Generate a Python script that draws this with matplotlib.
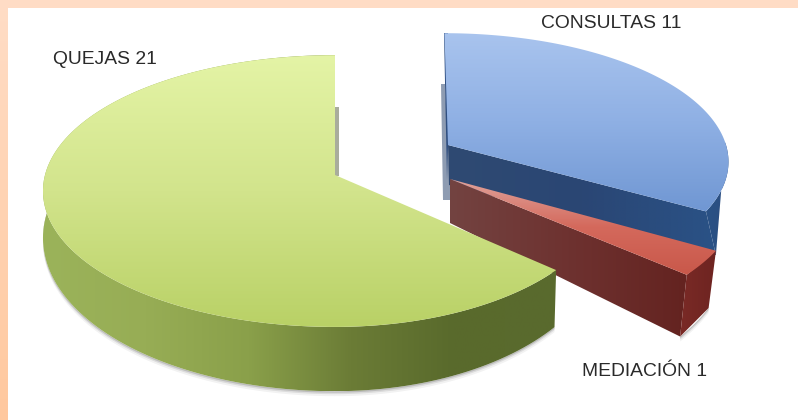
import numpy as np
import matplotlib
matplotlib.use("Agg")
import matplotlib.pyplot as plt
from matplotlib.colors import LinearSegmentedColormap as LSC
from matplotlib.patches import Polygon, Rectangle

categories = ["CONSULTAS", "MEDIACIÓN", "QUEJAS"]
values = [11, 1, 21]
label_font = ["Liberation Sans", "DejaVu Sans"]

fig = plt.figure(figsize=(7.98, 4.20), dpi=100, facecolor="white")
ax = fig.add_axes([0, 0, 1, 1])

# slice angles (clockwise from 12 o'clock) come from the values
fracs = np.array(values) / sum(values) * 2 * np.pi
stops = np.concatenate([[0], np.cumsum(fracs)])
K = 0.118


def project(theta, cx, cy, a_r, a_l, b, shear=0):
    u, v = np.sin(theta), np.cos(theta)
    w = 1 + K * v
    a = np.where(u > 0, a_r, a_l)
    return cx + (a * u + shear * v) / w, cy - b * v / w


def grad(colors, poly, horizontal=False, zorder=2):
    xs, ys = poly[:, 0], poly[:, 1]
    x0, x1, y0, y1 = xs.min(), xs.max(), ys.min(), ys.max()
    cmap = LSC.from_list("g", colors)
    g = np.linspace(0, 1, 256)
    g = g[None, :] if horizontal else g[:, None]
    im = ax.imshow(g, cmap=cmap, extent=[x0, x1, y1, y0], aspect="auto",
                   zorder=zorder, interpolation="bilinear")
    im.set_clip_path(Polygon(poly, closed=True, transform=ax.transData))


def arc(i, top, n=120):
    t = np.linspace(stops[i], stops[i + 1], n)
    return np.column_stack(project(t, *top))


def side_strip(i, top, bot):
    t = np.linspace(stops[i], stops[i + 1], 150)
    p1 = np.column_stack(project(t, *top))
    p2 = np.column_stack(project(t, *bot))
    return np.vstack([p1, p2[::-1]])


# frame
ax.imshow(np.linspace(0, 1, 256)[:, None], cmap=LSC.from_list("f", ["#FFDDC6", "#FFC89E"]),
          extent=[0, 8, 420, 0], aspect="auto", zorder=1)
ax.add_patch(Rectangle((0, 0), 798, 8, facecolor="#FFDCC5", edgecolor="none", zorder=1))

# geometry: cx, cy, a right, a left, b
q_top = (335, 175, 270, 290, 134)
q_bot = (335, 220, 268, 290, 151)
c_top = (448, 145, 278, 278, 125, -4)
c_bot = (449, 185, 290, 290, 132)
m_top = (450, 179, 289, 289, 135)
m_bot = (450, 223, 281, 281, 160)

# soft shadows
for off, al in ((5, .05), (3, .09), (1.5, .14)):
    s = side_strip(2, q_bot, (q_bot[0], q_bot[1] + off, q_bot[2], q_bot[3], q_bot[4]))
    ax.add_patch(Polygon(s, facecolor="k", alpha=al, edgecolor="none", zorder=1.5))
    s = side_strip(1, m_bot, (m_bot[0], m_bot[1] + off, m_bot[2], m_bot[3], m_bot[4]))
    ax.add_patch(Polygon(s, facecolor="k", alpha=al, edgecolor="none", zorder=1.5))
ax.add_patch(Polygon([[335, 107], [339, 107], [339, 176], [335, 176]],
                     facecolor="#A9AD9C", edgecolor="none", zorder=1.5))
ax.add_patch(Polygon([[441, 84], [445, 84], [450, 185], [450, 200], [443, 200]],
                     facecolor="#8E9CB2", edgecolor="none", zorder=1.5))

# CONSULTAS
p0 = np.array(project(stops[1], *c_top)).ravel()
p1 = np.array(project(stops[1], *c_bot)).ravel()
ax.add_patch(Polygon([[444, 33], [448, 33], [448, 146], [447, 180]],
                     facecolor="#2F4E80", edgecolor="none", zorder=2.5))
front = np.array([[c_top[0], c_top[1]], p0, p1, [c_bot[0], c_bot[1]]])
grad(["#2F4A72", "#2A4674", "#2A5286"], front, True, 3)
t_side = np.linspace(1.55, stops[1], 50)
fan = np.vstack([np.column_stack(project(t_side, *c_top)), p1])
grad(["#2A5286", "#2C4E80"], fan, True, 3)
grad(["#A9C4EE", "#8FB0E4", "#7097D3"],
     np.vstack([[c_top[0], c_top[1]], arc(0, c_top)]), False, 4)

# MEDIACIÓN
p0 = np.array(project(stops[1], *m_top)).ravel()
p1 = np.array(project(stops[1], *m_bot)).ravel()
p2 = np.array(project(stops[2], *m_top)).ravel()
p3 = np.array(project(stops[2], *m_bot)).ravel()
grad(["#734341", "#6E3230", "#642320"],
     np.array([[m_top[0], m_top[1]], p2, p3, [m_bot[0], m_bot[1]]]), True, 5)
grad(["#7A2A26", "#6E2421"], np.array([p2, p0, p1, p3]), True, 5)
grad(["#E0A29A", "#D4695C", "#C9584A"],
     np.vstack([[m_top[0], m_top[1]], arc(1, m_top)]), False, 6)

# QUEJAS
p = side_strip(2, q_top, q_bot)
grad(["#9BB35A", "#97AD55", "#8AA04A", "#6B7C36", "#596A2C", "#5A6A2E"], p, True, 7)
grad(["#E4F4A6", "#D2E48C", "#B9D166"],
     np.vstack([[q_top[0], q_top[1]], arc(2, q_top)]), False, 8)

# labels
fs = 13.9
col = "#2A2A2A"
ax.text(541, 23, f"{categories[0]} {values[0]}", family=label_font, fontsize=fs, color=col,
        va="center", ha="left", zorder=10)
ax.text(582, 371, f"{categories[1]} {values[1]}", family=label_font, fontsize=fs, color=col,
        va="center", ha="left", zorder=10)
ax.text(53, 60, f"{categories[2]} {values[2]}", family=label_font, fontsize=fs, color=col,
        va="center", ha="left", zorder=10)

ax.set_xlim(0, 798)
ax.set_ylim(420, 0)
ax.axis("off")
fig.savefig("out.png", dpi=100)
